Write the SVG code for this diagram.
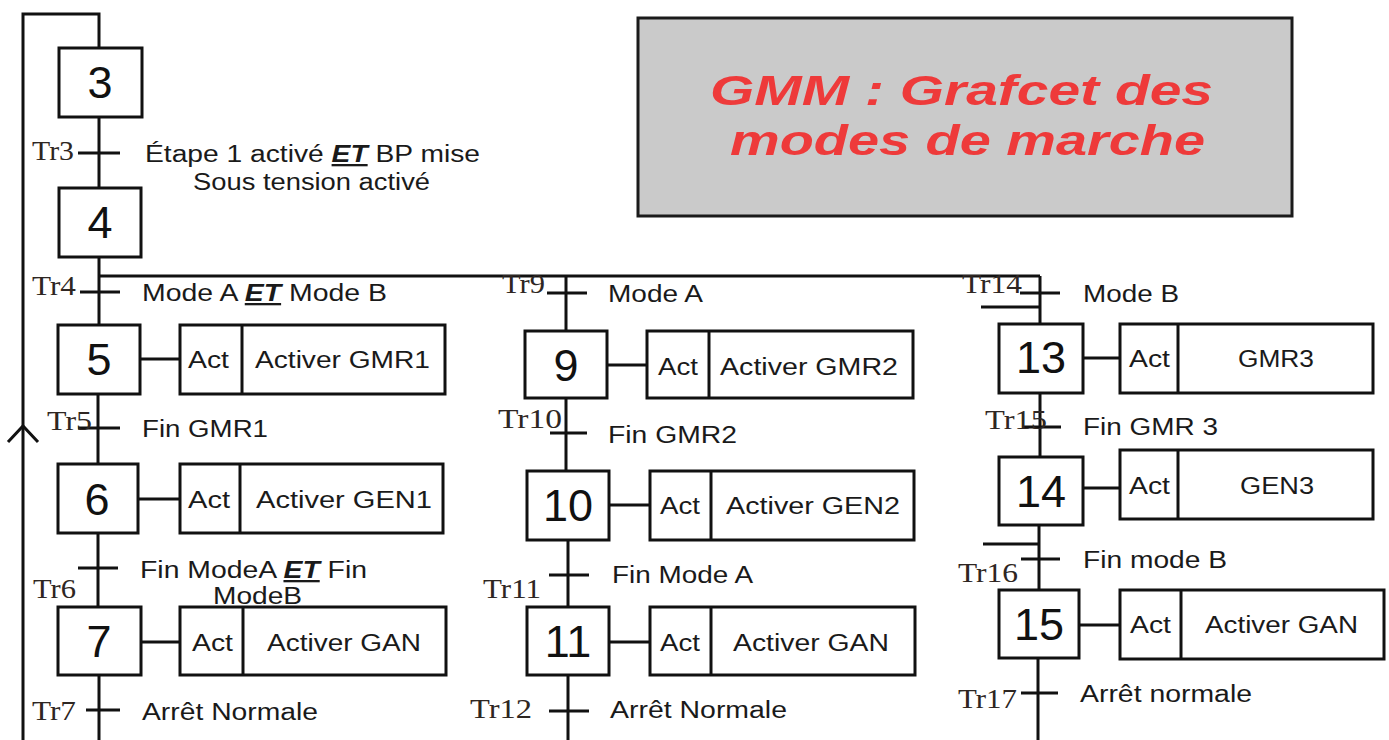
<svg xmlns="http://www.w3.org/2000/svg" width="1389" height="740" viewBox="0 0 1389 740">
<style>
.bx{fill:#fff;stroke:#111;stroke-width:3}
.ln{fill:none;stroke:#111;stroke-width:3}
.num{font-family:"Liberation Sans",Arial,sans-serif;font-size:45px;fill:#111;text-anchor:middle}
.lb{font-family:"Liberation Sans",Arial,sans-serif;font-size:23px;fill:#1a1a1a}
.tr{font-family:"Liberation Serif","Times New Roman",serif;font-size:27px;fill:#2e2622}
.et{font-weight:bold;font-style:italic;text-decoration:underline}
.ttl{font-family:"Liberation Sans",Arial,sans-serif;font-size:42px;font-weight:bold;font-style:italic;fill:#ee3a3a}
</style>
<rect width="1389" height="740" fill="#fff"/>

<g id="title">
<rect x="638" y="18" width="654" height="198" fill="#cacaca" stroke="#1a1a1a" stroke-width="3"/>
<text class="ttl" x="710" y="105" textLength="503" lengthAdjust="spacingAndGlyphs">GMM : Grafcet des</text>
<text class="ttl" x="730" y="155" textLength="475" lengthAdjust="spacingAndGlyphs">modes de marche</text>
</g>

<g id="connectors">
<path class="ln" d="M99 48 V14 H23 V740"/>
<polyline class="ln" points="8,442 23,426 38,442"/>
<path class="ln" d="M99 117 V188 M99 257 V325 M98 394 V464 M98 533 V607 M99 675 V740"/>
<path class="ln" d="M99 276 H1040"/>
<path class="ln" d="M566 276 V331 M566 398 V471 M568 540 V607 M568 675 V740"/>
<path class="ln" d="M1040 276 V324 M1040 393 V457 M1039 525 V590 M1038 658 V740"/>
<path class="ln" d="M981 307 H1040 M983 544 H1040"/>
<path class="ln" d="M78 153 H120 M80 292 H120 M78 428 H120 M78 568 H118 M86 710 H120"/>
<path class="ln" d="M547 293 H587 M550 433 H587 M549 575 H589 M549 711 H589"/>
<path class="ln" d="M1020 293 H1060 M1023 427 H1061 M1021 559 H1060 M1021 693 H1058"/>
<path class="ln" d="M140 359 H180 M138 499 H180 M141 642 H180 M607 365 H647 M609 505 H650 M609 642 H650 M1083 358 H1120 M1083 488 H1120 M1079 625 H1120"/>
</g>

<g id="transitions">
<text class="tr" x="32" y="160" textLength="42" lengthAdjust="spacingAndGlyphs">Tr3</text>
<text class="lb" x="145" y="162" textLength="335" lengthAdjust="spacingAndGlyphs">Étape 1 activé <tspan class="et">ET</tspan> BP mise</text>
<text class="lb" x="193" y="190" textLength="237" lengthAdjust="spacingAndGlyphs">Sous tension activé</text>
<text class="tr" x="32" y="295" textLength="44" lengthAdjust="spacingAndGlyphs">Tr4</text>
<text class="lb" x="142" y="301" textLength="245" lengthAdjust="spacingAndGlyphs">Mode A <tspan class="et">ET</tspan> Mode B</text>
<text class="tr" x="47" y="430" textLength="45" lengthAdjust="spacingAndGlyphs">Tr5</text>
<text class="lb" x="142" y="437" textLength="126" lengthAdjust="spacingAndGlyphs">Fin GMR1</text>
<text class="tr" x="33" y="598" textLength="43" lengthAdjust="spacingAndGlyphs">Tr6</text>
<text class="lb" x="140" y="578" textLength="227" lengthAdjust="spacingAndGlyphs">Fin ModeA <tspan class="et">ET</tspan> Fin</text>
<text class="lb" x="213" y="604" textLength="89" lengthAdjust="spacingAndGlyphs">ModeB</text>
<text class="tr" x="32" y="720" textLength="44" lengthAdjust="spacingAndGlyphs">Tr7</text>
<text class="lb" x="142" y="720" textLength="176" lengthAdjust="spacingAndGlyphs">Arrêt Normale</text>
<text class="tr" x="502" y="293" textLength="43" lengthAdjust="spacingAndGlyphs">Tr9</text>
<text class="lb" x="608" y="302" textLength="95" lengthAdjust="spacingAndGlyphs">Mode A</text>
<text class="tr" x="498" y="428" textLength="64" lengthAdjust="spacingAndGlyphs">Tr10</text>
<text class="lb" x="608" y="443" textLength="129" lengthAdjust="spacingAndGlyphs">Fin GMR2</text>
<text class="tr" x="483" y="598" textLength="58" lengthAdjust="spacingAndGlyphs">Tr11</text>
<text class="lb" x="612" y="583" textLength="141" lengthAdjust="spacingAndGlyphs">Fin Mode A</text>
<text class="tr" x="470" y="718" textLength="62" lengthAdjust="spacingAndGlyphs">Tr12</text>
<text class="lb" x="610" y="718" textLength="177" lengthAdjust="spacingAndGlyphs">Arrêt Normale</text>
<text class="tr" x="962" y="293" textLength="60" lengthAdjust="spacingAndGlyphs">Tr14</text>
<text class="lb" x="1083" y="302" textLength="96" lengthAdjust="spacingAndGlyphs">Mode B</text>
<text class="tr" x="985" y="429" textLength="62" lengthAdjust="spacingAndGlyphs">Tr15</text>
<text class="lb" x="1083" y="435" textLength="135" lengthAdjust="spacingAndGlyphs">Fin GMR 3</text>
<text class="tr" x="958" y="582" textLength="60" lengthAdjust="spacingAndGlyphs">Tr16</text>
<text class="lb" x="1083" y="568" textLength="144" lengthAdjust="spacingAndGlyphs">Fin mode B</text>
<text class="tr" x="958" y="708" textLength="59" lengthAdjust="spacingAndGlyphs">Tr17</text>
<text class="lb" x="1080" y="702" textLength="172" lengthAdjust="spacingAndGlyphs">Arrêt normale</text>
</g>

<g id="step3"><rect class="bx" x="59" y="48" width="83" height="69"/><text class="num" x="100" y="98">3</text></g>
<g id="step4"><rect class="bx" x="59" y="188" width="82" height="69"/><text class="num" x="100" y="238">4</text></g>

<g id="step5"><rect class="bx" x="58" y="325" width="82" height="69"/><text class="num" x="99" y="375">5</text>
<rect class="bx" x="180" y="325" width="265" height="69"/><path class="ln" d="M242 325 V394"/>
<text class="lb" x="188" y="368" textLength="41" lengthAdjust="spacingAndGlyphs">Act</text>
<text class="lb" x="255" y="368" textLength="175" lengthAdjust="spacingAndGlyphs">Activer GMR1</text></g>

<g id="step6"><rect class="bx" x="58" y="464" width="80" height="69"/><text class="num" x="97" y="515">6</text>
<rect class="bx" x="180" y="464" width="263" height="69"/><path class="ln" d="M240 464 V533"/>
<text class="lb" x="188" y="508" textLength="42" lengthAdjust="spacingAndGlyphs">Act</text>
<text class="lb" x="256" y="508" textLength="176" lengthAdjust="spacingAndGlyphs">Activer GEN1</text></g>

<g id="step7"><rect class="bx" x="58" y="607" width="83" height="68"/><text class="num" x="99" y="657">7</text>
<rect class="bx" x="180" y="607" width="266" height="68"/><path class="ln" d="M243 607 V675"/>
<text class="lb" x="192" y="651" textLength="41" lengthAdjust="spacingAndGlyphs">Act</text>
<text class="lb" x="267" y="651" textLength="154" lengthAdjust="spacingAndGlyphs">Activer GAN</text></g>

<g id="step9"><rect class="bx" x="525" y="331" width="82" height="67"/><text class="num" x="566" y="381">9</text>
<rect class="bx" x="647" y="331" width="266" height="67"/><path class="ln" d="M709 331 V398"/>
<text class="lb" x="658" y="375" textLength="40" lengthAdjust="spacingAndGlyphs">Act</text>
<text class="lb" x="720" y="375" textLength="178" lengthAdjust="spacingAndGlyphs">Activer GMR2</text></g>

<g id="step10"><rect class="bx" x="527" y="471" width="82" height="69"/><text class="num" x="568" y="521">10</text>
<rect class="bx" x="650" y="471" width="264" height="69"/><path class="ln" d="M711 471 V540"/>
<text class="lb" x="660" y="514" textLength="40" lengthAdjust="spacingAndGlyphs">Act</text>
<text class="lb" x="726" y="514" textLength="174" lengthAdjust="spacingAndGlyphs">Activer GEN2</text></g>

<g id="step11"><rect class="bx" x="527" y="607" width="82" height="68"/><text class="num" x="568" y="657">11</text>
<rect class="bx" x="650" y="607" width="265" height="68"/><path class="ln" d="M711 607 V675"/>
<text class="lb" x="660" y="651" textLength="40" lengthAdjust="spacingAndGlyphs">Act</text>
<text class="lb" x="733" y="651" textLength="156" lengthAdjust="spacingAndGlyphs">Activer GAN</text></g>

<g id="step13"><rect class="bx" x="999" y="324" width="84" height="69"/><text class="num" x="1041" y="373">13</text>
<rect class="bx" x="1120" y="324" width="253" height="69"/><path class="ln" d="M1178 324 V393"/>
<text class="lb" x="1129" y="367" textLength="41" lengthAdjust="spacingAndGlyphs">Act</text>
<text class="lb" x="1238" y="367" textLength="76" lengthAdjust="spacingAndGlyphs">GMR3</text></g>

<g id="step14"><rect class="bx" x="999" y="457" width="84" height="68"/><text class="num" x="1041" y="507">14</text>
<rect class="bx" x="1120" y="450" width="253" height="69"/><path class="ln" d="M1178 450 V519"/>
<text class="lb" x="1129" y="494" textLength="41" lengthAdjust="spacingAndGlyphs">Act</text>
<text class="lb" x="1240" y="494" textLength="74" lengthAdjust="spacingAndGlyphs">GEN3</text></g>

<g id="step15"><rect class="bx" x="999" y="590" width="80" height="68"/><text class="num" x="1039" y="640">15</text>
<rect class="bx" x="1120" y="590" width="264" height="69"/><path class="ln" d="M1181 590 V659"/>
<text class="lb" x="1130" y="633" textLength="41" lengthAdjust="spacingAndGlyphs">Act</text>
<text class="lb" x="1205" y="633" textLength="153" lengthAdjust="spacingAndGlyphs">Activer GAN</text></g>
</svg>
